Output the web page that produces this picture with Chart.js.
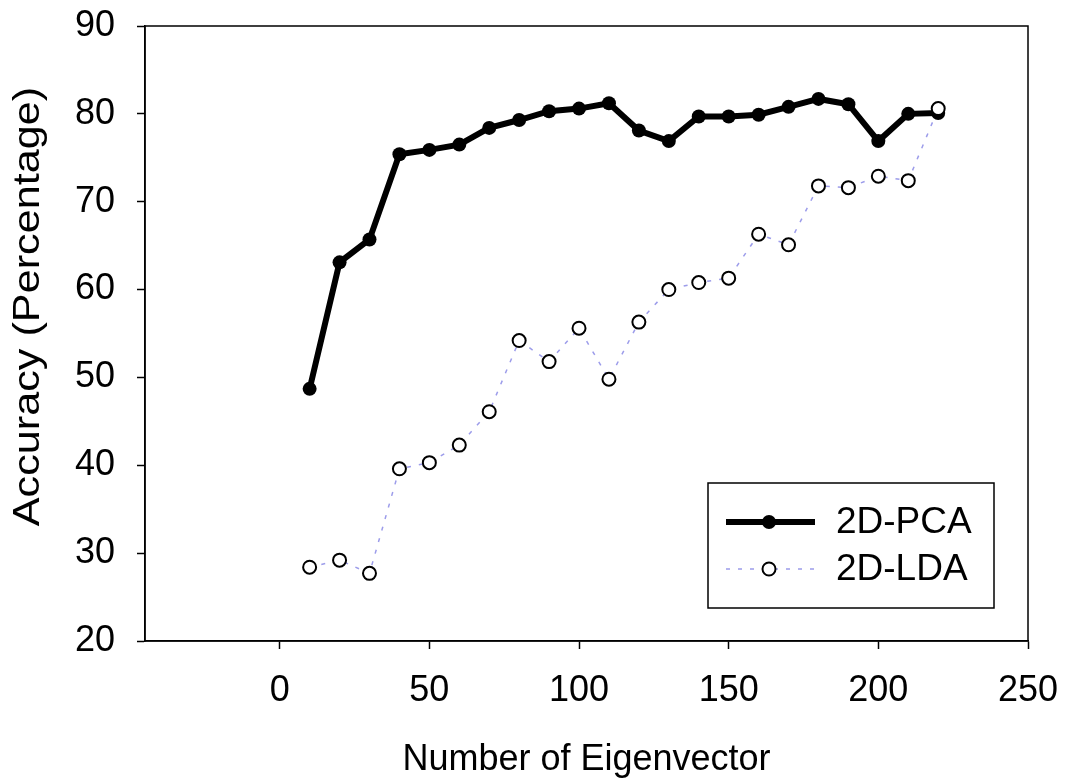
<!DOCTYPE html>
<html>
<head>
<meta charset="utf-8">
<title>Accuracy vs Number of Eigenvector</title>
<script src="https://cdn.jsdelivr.net/npm/chart.js@4.4.1/dist/chart.umd.min.js"></script>
<style>
  html, body { margin: 0; padding: 0; background: #ffffff; }
  #wrap { width: 1067px; height: 779px; }
</style>
</head>
<body>
<div id="wrap"><canvas id="chart" width="1067" height="779"></canvas></div>
<script>
// Number of eigenvectors kept (x values)
const eigenvectorCounts = [10, 20, 30, 40, 50, 60, 70, 80, 90, 100, 110,
                           120, 130, 140, 150, 160, 170, 180, 190, 200, 210, 220];

// Recognition accuracy (%) for each method
const pcaAccuracy = [48.7, 63.1, 65.7, 75.4, 75.9, 76.5, 78.4, 79.3, 80.3, 80.6, 81.2,
                     78.1, 76.9, 79.7, 79.7, 79.9, 80.8, 81.7, 81.1, 76.9, 80.0, 80.1];
const ldaAccuracy = [28.4, 29.2, 27.7, 39.6, 40.3, 42.3, 46.1, 54.2, 51.8, 55.6, 49.8,
                     56.3, 60.0, 60.8, 61.3, 66.3, 65.1, 71.8, 71.6, 72.9, 72.4, 80.6];

const seriesLabels = ['2D-PCA', '2D-LDA'];

// Axis tick labels
const xTickValues = [0, 50, 100, 150, 200, 250];
const yTickValues = [20, 30, 40, 50, 60, 70, 80, 90];

const xTitle = 'Number of Eigenvector';
const yTitle = 'Accuracy (Percentage)';

const FONT = '"Liberation Sans", Arial, Helvetica, sans-serif';

const toPoints = (ys) => eigenvectorCounts.map((x, i) => ({ x: x, y: ys[i] }));

// Closed box around the plotting area
const framePlugin = {
  id: 'frame',
  beforeDatasetsDraw(chart) {
    const { ctx, chartArea: a } = chart;
    ctx.save();
    ctx.strokeStyle = '#000';
    ctx.lineWidth = 1.5;
    ctx.strokeRect(a.left, a.top, a.right - a.left, a.bottom - a.top);
    ctx.restore();
  }
};

// Vertical axis title, drawn rotated and slightly stretched along its length
const yTitlePlugin = {
  id: 'yTitle',
  afterDraw(chart) {
    const { ctx, chartArea: a } = chart;
    ctx.save();
    ctx.translate(29, (a.top + a.bottom) / 2 - 27);
    ctx.rotate(-Math.PI / 2);
    ctx.scale(1.2, 1);
    ctx.font = '36px ' + FONT;
    ctx.fillStyle = '#000';
    ctx.textAlign = 'center';
    ctx.textBaseline = 'middle';
    ctx.fillText(yTitle, 0, 0);
    ctx.restore();
  }
};

// Boxed legend in the lower right of the plot
const boxLegendPlugin = {
  id: 'boxLegend',
  afterDraw(chart) {
    const { ctx, chartArea: a } = chart;
    const boxW = 286, boxH = 125;
    const bx = a.right - 34 - boxW;
    const by = a.bottom - 33 - boxH;
    ctx.save();
    ctx.fillStyle = '#fff';
    ctx.fillRect(bx, by, boxW, boxH);
    ctx.strokeStyle = '#000';
    ctx.lineWidth = 1.5;
    ctx.strokeRect(bx, by, boxW, boxH);

    const rows = [39, 86];
    chart.data.datasets.forEach((ds, i) => {
      const ry = by + rows[i];
      const x0 = bx + 18, x1 = bx + 107, mx = bx + 61;
      ctx.save();
      ctx.strokeStyle = ds.borderColor;
      ctx.lineWidth = ds.borderWidth;
      ctx.setLineDash(ds.borderDash || []);
      ctx.beginPath();
      ctx.moveTo(x0, ry);
      ctx.lineTo(x1, ry);
      ctx.stroke();
      ctx.restore();

      ctx.beginPath();
      ctx.arc(mx, ry, ds.pointRadius, 0, Math.PI * 2);
      ctx.fillStyle = ds.pointBackgroundColor;
      ctx.fill();
      if (ds.pointBorderWidth > 0) {
        ctx.lineWidth = ds.pointBorderWidth;
        ctx.strokeStyle = ds.pointBorderColor;
        ctx.stroke();
      }

      ctx.fillStyle = '#000';
      ctx.font = '37px ' + FONT;
      ctx.textAlign = 'left';
      ctx.textBaseline = 'middle';
      ctx.fillText(ds.label, bx + 128, ry + 1);
    });
    ctx.restore();
  }
};

const axisCommon = {
  grid: { drawOnChartArea: false, drawTicks: true, tickLength: 8, tickWidth: 1.5, tickColor: '#000' },
  border: { display: true, color: '#000', width: 1.5 }
};

new Chart(document.getElementById('chart'), {
  type: 'line',
  data: {
    datasets: [
      {
        label: seriesLabels[0],
        data: toPoints(pcaAccuracy),
        borderColor: '#000',
        borderWidth: 6,
        pointRadius: 7,
        pointBackgroundColor: '#000',
        pointBorderColor: '#000',
        pointBorderWidth: 0,
        tension: 0,
        order: 2
      },
      {
        label: seriesLabels[1],
        data: toPoints(ldaAccuracy),
        borderColor: 'rgba(90, 90, 220, 0.6)',
        borderWidth: 1.5,
        borderDash: [4, 8],
        pointRadius: 6.5,
        pointBackgroundColor: '#fff',
        pointBorderColor: '#000',
        pointBorderWidth: 2,
        tension: 0,
        order: 1
      }
    ]
  },
  options: {
    responsive: false,
    animation: false,
    events: [],
    layout: { padding: { left: 0, top: 26, right: 39, bottom: 0 } },
    plugins: {
      legend: { display: false },
      tooltip: { enabled: false }
    },
    scales: {
      x: {
        type: 'linear',
        min: -45,
        max: 250,
        afterBuildTicks: (s) => { s.ticks = xTickValues.map(v => ({ value: v })); },
        afterFit: (s) => { s.height = 138; s.paddingLeft = 0; s.paddingRight = 0; },
        ...axisCommon,
        ticks: { color: '#000', font: { family: FONT, size: 36 }, padding: 20, maxRotation: 0, autoSkip: false },
        title: { display: true, text: xTitle, color: '#000', font: { family: FONT, size: 36 }, padding: { top: 0, bottom: -3 } }
      },
      y: {
        type: 'linear',
        min: 20,
        max: 90,
        afterBuildTicks: (s) => { s.ticks = yTickValues.map(v => ({ value: v })); },
        afterFit: (s) => { s.width = 145; s.paddingTop = 0; s.paddingBottom = 0; },
        ...axisCommon,
        ticks: { color: '#000', font: { family: FONT, size: 36 }, padding: 22, autoSkip: false },
        title: { display: false }
      }
    }
  },
  plugins: [framePlugin, yTitlePlugin, boxLegendPlugin]
});
</script>
</body>
</html>
